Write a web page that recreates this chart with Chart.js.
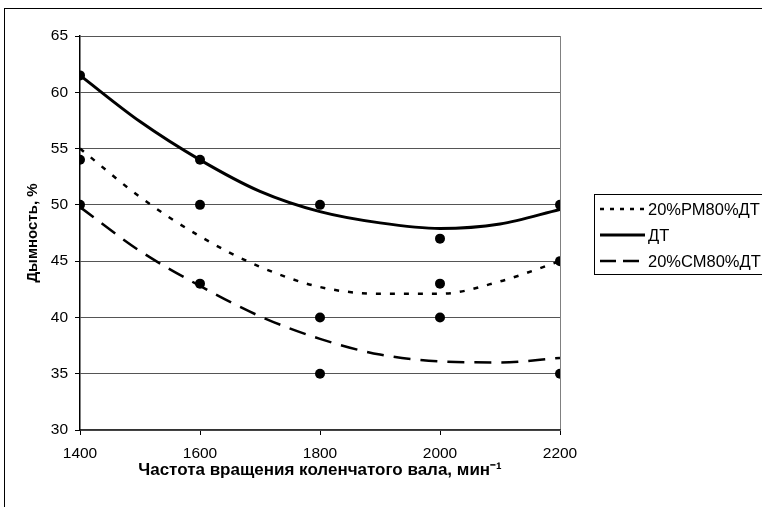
<!DOCTYPE html>
<html><head><meta charset="utf-8">
<script src="https://cdn.jsdelivr.net/npm/chart.js@4.4.1/dist/chart.umd.min.js"></script>
<style>
html,body{margin:0;padding:0;background:#fff;}
#wrap{position:relative;width:762px;height:507px;overflow:hidden;}
#frame{position:absolute;left:4px;top:8px;width:900px;height:600px;border-left:1.5px solid #000;border-top:1.5px solid #000;}
canvas{position:absolute;left:0;top:0;}
</style></head><body>
<div id="wrap"><div id="frame"></div><canvas id="c" width="762" height="507"></canvas></div>
<script>
// ---- data ----
const trendX = [1400, 1500, 1600, 1700, 1800, 1900, 2000, 2100, 2200];
const trendRM = [55.0, 50.7, 47.2, 44.5, 42.7, 42.1, 42.1, 43.2, 45.0];
const trendDT = [61.5, 57.4, 54.0, 51.2, 49.4, 48.4, 47.9, 48.3, 49.6];
const trendCM = [49.8, 45.9, 42.8, 40.1, 38.1, 36.7, 36.1, 36.0, 36.4];

const pointX = [1400, 1600, 1800, 2000, 2200];
const pointsDT = [61.5, 54, 50, 47, 50];
const pointsRM = [54, 50, 40, 43, 45];
const pointsCM = [50, 43, 35, 40, 35];

const seriesLabels = ['20%РМ80%ДТ', 'ДТ', '20%СМ80%ДТ'];
const xTitle = 'Частота вращения коленчатого вала, мин⁻¹';
const yTitle = 'Дымность, %';

const xy = (xs, ys) => xs.map((x, i) => ({x: x, y: ys[i]}));

const legendPlugin = {
  id: 'boxLegend',
  afterDraw(chart) {
    const ctx = chart.ctx;
    ctx.save();
    ctx.strokeStyle = '#000';
    ctx.lineWidth = 1;
    ctx.strokeRect(594.5, 194.5, 200, 80);
    const rows = [209, 235, 261];
    [0, 1, 2].forEach((di, i) => {
      const ds = chart.data.datasets[di];
      ctx.beginPath();
      ctx.setLineDash(ds.legendDash || []);
      ctx.lineWidth = ds.borderWidth;
      ctx.strokeStyle = ds.borderColor;
      ctx.moveTo(600, rows[i]);
      ctx.lineTo(645, rows[i]);
      ctx.stroke();
      ctx.setLineDash([]);
      ctx.fillStyle = '#000';
      ctx.font = '16.5px "Liberation Sans", Arial, sans-serif';
      ctx.textBaseline = 'middle';
      ctx.textAlign = 'left';
      ctx.fillText(ds.label, 648, rows[i] + 1);
    });
    ctx.restore();
  }
};

const markerStyle = {
  type: 'scatter', showLine: false, pointRadius: 5, pointHoverRadius: 5,
  pointBackgroundColor: '#000', pointBorderWidth: 0, borderColor: '#000', backgroundColor: '#000'
};

new Chart(document.getElementById('c'), {
  type: 'line',
  data: {
    datasets: [
      {label: seriesLabels[0], data: xy(trendX, trendRM), borderColor: '#000', borderWidth: 2.5,
       borderDash: [5, 9], legendDash: [4, 6], pointRadius: 0, cubicInterpolationMode: 'monotone', fill: false, order: 3},
      {label: seriesLabels[1], data: xy(trendX, trendDT), borderColor: '#000', borderWidth: 3,
       pointRadius: 0, cubicInterpolationMode: 'monotone', fill: false, order: 3},
      {label: seriesLabels[2], data: xy(trendX, trendCM), borderColor: '#000', borderWidth: 2.5,
       borderDash: [17, 10], legendDash: [16, 7], pointRadius: 0, cubicInterpolationMode: 'monotone', fill: false, order: 3},
      Object.assign({label: 'pRM', data: xy(pointX, pointsRM), order: 1}, markerStyle),
      Object.assign({label: 'pDT', data: xy(pointX, pointsDT), order: 1}, markerStyle),
      Object.assign({label: 'pCM', data: xy(pointX, pointsCM), order: 1}, markerStyle)
    ]
  },
  options: {
    responsive: false,
    animation: false,
    devicePixelRatio: 1,
    layout: {padding: {left: 0, right: 202, top: 36, bottom: 0}},
    plugins: {legend: {display: false}, tooltip: {enabled: false}},
    scales: {
      x: {
        type: 'linear', min: 1400, max: 2200,
        afterFit(scale) { scale.height = 77; },
        ticks: {stepSize: 200, color: '#000', padding: 9, maxRotation: 0,
                callback: (v) => String(v),
                font: {family: '"Liberation Sans", Arial, sans-serif', size: 15.5}},
        grid: {drawOnChartArea: true, tickLength: 5, tickColor: '#000', lineWidth: 1,
               color: (c) => (c.tick && c.tick.value === 2200) ? '#808080' : 'rgba(0,0,0,0)'},
        border: {color: '#333', width: 1.5},
        title: {display: true, text: xTitle, color: '#000', padding: {top: 0, bottom: 26},
                font: {family: '"Liberation Sans", Arial, sans-serif', size: 17, weight: 'bold'}}
      },
      y: {
        type: 'linear', min: 30, max: 65,
        afterFit(scale) { scale.width = 80; },
        ticks: {stepSize: 5, color: '#000', padding: 7,
                callback: (v) => String(v),
                font: {family: '"Liberation Sans", Arial, sans-serif', size: 15.5}},
        grid: {color: '#555', lineWidth: 1, tickLength: 5, tickColor: '#000'},
        border: {color: '#000', width: 1.5},
        title: {display: true, text: yTitle, color: '#000', padding: {top: 24, bottom: 0},
                font: {family: '"Liberation Sans", Arial, sans-serif', size: 15, weight: 'bold'}}
      }
    }
  },
  plugins: [legendPlugin]
});
</script>
</body></html>
